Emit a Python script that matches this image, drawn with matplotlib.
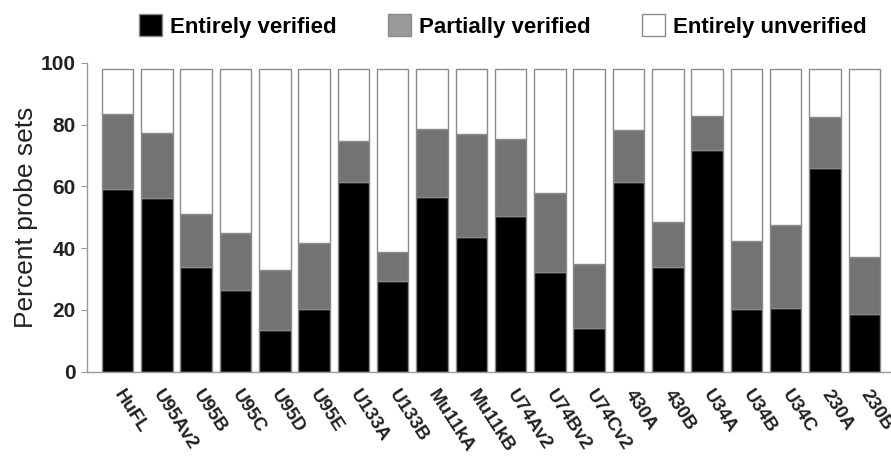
import matplotlib.pyplot as plt
from matplotlib.patches import Patch

plt.rcParams['font.family'] = ['Liberation Sans', 'DejaVu Sans']

# arrays and percent of probe sets per category
arrays = ['HuFL', 'U95Av2', 'U95B', 'U95C', 'U95D', 'U95E', 'U133A', 'U133B',
          'Mu11kA', 'Mu11kB', 'U74Av2', 'U74Bv2', 'U74Cv2', '430A', '430B',
          'U34A', 'U34B', 'U34C', '230A', '230B']
entirely_verified = [59.2, 56.2, 33.8, 26.5, 13.5, 20.2, 61.3, 29.2, 56.5, 43.7,
                     50.4, 32.3, 14.2, 61.5, 33.8, 71.8, 20.2, 20.6, 65.8, 18.6]
partially_verified = [24.3, 21.2, 17.3, 18.4, 19.4, 21.4, 13.4, 9.5, 22.1, 33.2,
                      24.9, 25.5, 20.7, 16.8, 14.5, 10.8, 22.1, 26.8, 16.5, 18.5]
total = [98.0] * len(arrays)
entirely_unverified = [t - a - b for t, a, b in zip(total, entirely_verified, partially_verified)]

x = range(len(arrays))
bottom2 = entirely_verified
bottom3 = [a + b for a, b in zip(entirely_verified, partially_verified)]

fig = plt.figure(figsize=(8.91, 4.57), dpi=100)
ax = fig.add_axes([0.0976, 0.1866, 0.9024, 0.6762])

edge = '#8a8a8a'
ax.bar(x, entirely_verified, width=0.8, color='black', edgecolor=edge, linewidth=1.0)
ax.bar(x, partially_verified, width=0.8, bottom=bottom2, color='#737373', edgecolor=edge, linewidth=1.0)
ax.bar(x, entirely_unverified, width=0.8, bottom=bottom3, color='white', edgecolor=edge, linewidth=1.0)

ax.set_xlim(-0.78, 19.68)
ax.set_ylim(0, 100)
ax.set_yticks([0, 20, 40, 60, 80, 100])
ax.tick_params(axis='y', length=4, color='#999999', labelsize=15, pad=4)
ax.tick_params(axis='x', length=0, pad=14)
for lbl in ax.get_yticklabels():
    lbl.set_fontweight('bold')
    lbl.set_color('#222222')
ax.set_xticks(list(x))
ax.set_xticklabels(arrays, rotation=-57, ha='left', va='center', rotation_mode='anchor',
                   fontsize=13.5, fontweight='bold', color='#222222')
ax.set_ylabel('Percent probe sets', fontsize=19, color='#222222', labelpad=2)

for s in ['top', 'right']:
    ax.spines[s].set_visible(False)
for s in ['left', 'bottom']:
    ax.spines[s].set_color('#9a9a9a')
    ax.spines[s].set_linewidth(1.0)

handles = [Patch(facecolor='black', edgecolor=edge),
           Patch(facecolor='#999999', edgecolor=edge),
           Patch(facecolor='white', edgecolor=edge)]
labels = ['Entirely verified', 'Partially verified', 'Entirely unverified']
fig.legend(handles, labels, loc='center', bbox_to_anchor=(0.564, 0.943), ncol=3,
           frameon=False, prop={'size': 16, 'weight': 'bold'},
           handlelength=1.05, handleheight=1.15, handletextpad=0.35, columnspacing=2.3)

fig.savefig('out.png', dpi=100)
